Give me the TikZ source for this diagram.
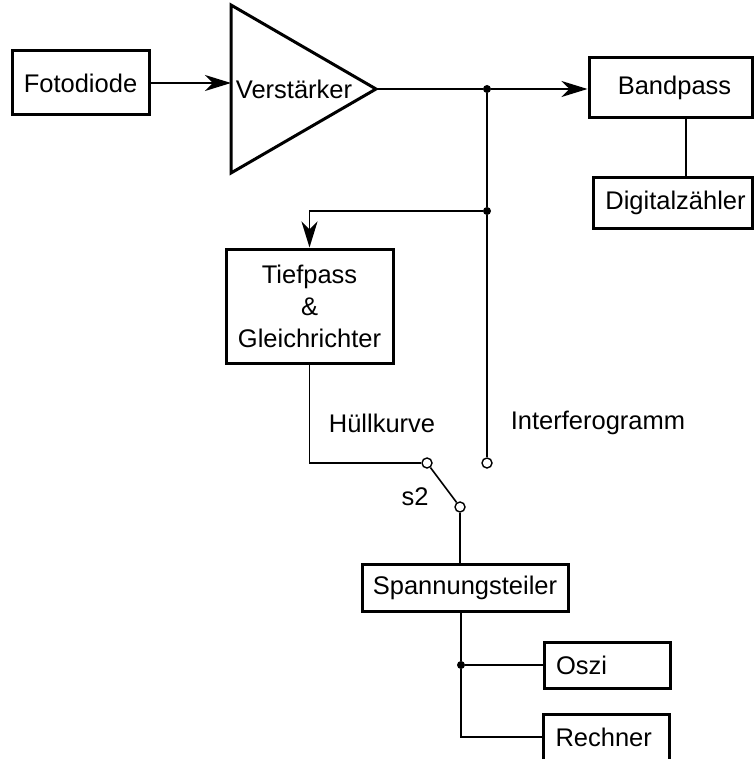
\documentclass[tikz,border=0pt]{standalone}
\usepackage{fontspec}
\setmainfont{Liberation Sans}
\usetikzlibrary{arrows.meta}
\begin{document}
\begin{tikzpicture}[x=1pt,y=-1pt,
  box/.style={draw, line width=3pt, inner sep=0pt, font=\fontsize{25.5}{32}\selectfont},
  lbox/.style={box, text width=102pt, align=left, inner xsep=12pt},
  txt/.style={inner sep=0pt, font=\fontsize{25.5}{32}\selectfont},
  wire/.style={line width=1.6pt},
  arr/.style={wire, -{Stealth[length=26pt, width=16pt, inset=8pt]}},
  dot/.style={circle, fill=black, inner sep=0pt, minimum size=8pt},
  term/.style={circle, draw, fill=white, line width=1.4pt, inner sep=0pt, minimum size=10pt}]
\useasboundingbox (0,0) rectangle (754,759);
% boxes
\node[box, minimum width=137pt, minimum height=64pt] (fd) at (80.5,83) {Fotodiode};
\node[box, minimum width=163pt, minimum height=60pt] (bp) at (670.5,88) {\hspace*{8pt}Bandpass};
\node[box, minimum width=159pt, minimum height=50pt] (dz) at (672.5,203) {\hspace*{6pt}Digitalzähler};
\node[box, minimum width=167pt, minimum height=114pt, align=center] (tp) at (309.5,306) {Tiefpass\\\&\\Gleichrichter};
\node[box, minimum width=206pt, minimum height=47pt] (st) at (465,587.5) {Spannungsteiler};
\node[lbox, minimum height=46pt] (os) at (607,665) {Oszi};
\node[lbox, minimum height=46pt] (re) at (606.5,737) {Rechner};
% amplifier
\coordinate (ampin) at (231,83);
\coordinate (ampout) at (376,89);
\draw[line width=3pt, line join=miter] (231,5) -- (ampout) -- (231,173) -- cycle;
\node[txt] (amp) at (294,89) {Verstärker};
% junctions and terminals
\node[dot] (j1) at (487,89) {};
\node[dot] (j2) at (487,211) {};
\node[dot] (j3) at (461,665) {};
\node[term] (c1) at (427,463) {};
\node[term] (c2) at (487,463) {};
\node[term] (c3) at (460,507) {};
% labels
\node[txt] (lh) at (382,423) {Hüllkurve};
\node[txt] (li) at (598,423) {Interferogramm};
\node[txt] (ls) at (415,497) {s2};
% connectors
\draw[arr] (fd.east |- ampin) -- (ampin);
\draw[wire] (ampout) -- (j1);
\draw[arr] (j1) -- (bp.west |- j1);
\draw[wire] ([xshift=15.5pt]bp.south) -- ([xshift=13.5pt]dz.north);
\draw[wire] (j1) -- (j2) -- (c2);
\draw[arr] (j2) -| (tp.north);
\draw[wire] (tp.south) |- (c1);
\draw[wire] (c1) -- (c3);
\draw[wire] (c3) -- (c3 |- st.north);
\draw[wire] (st.south -| j3) -- (j3) -- (os.west);
\draw[wire] (j3) |- (re.west);
\end{tikzpicture}
\end{document}
